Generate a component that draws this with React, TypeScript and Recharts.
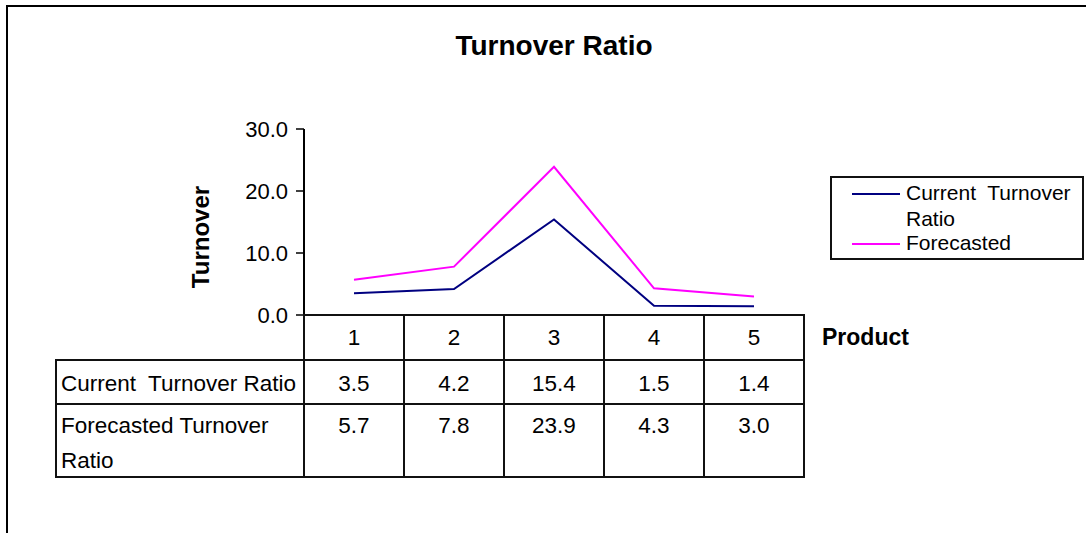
import React from "react";
import { LineChart, Line, XAxis, YAxis } from "recharts";

// values
const products = ["1", "2", "3", "4", "5"];
const currentRatio = [3.5, 4.2, 15.4, 1.5, 1.4];
const forecastRatio = [5.7, 7.8, 23.9, 4.3, 3.0];
const yTicks = [0, 10, 20, 30];
const seriesNames = ["Current  Turnover Ratio", "Forecasted Turnover Ratio"];
const legendNames = ["Current  Turnover Ratio", "Forecasted"];
const seriesColors = ["#000080", "#FF00FF"];

const data = products.map((p, i) => ({
  product: p,
  current: currentRatio[i],
  forecast: forecastRatio[i],
}));

const W = 1086;
const H = 533;
const PLOT_LEFT = 304;
const PLOT_TOP = 129;
const PLOT_W = 500;
const PLOT_H = 186;
const BAND = PLOT_W / products.length;
const TABLE_LEFT = 56;
const ROW_H = [45, 44, 73];
const FONT = '"Liberation Sans", Arial, sans-serif';
const LINE = "2px solid #111";
const TEXT_SIZE = 22.5;

function Cell({ x, y, w, h, children, style }: any) {
  return (
    <div
      style={{
        position: "absolute",
        left: x - 1,
        top: y - 1,
        width: w + 2,
        height: h + 2,
        border: LINE,
        boxSizing: "border-box",
        fontSize: TEXT_SIZE,
        color: "#000",
        ...style,
      }}
    >
      {children}
    </div>
  );
}

function DataTable() {
  const top0 = PLOT_TOP + PLOT_H;
  const top1 = top0 + ROW_H[0];
  const top2 = top1 + ROW_H[1];
  const rows = [currentRatio, forecastRatio];
  const rowTops = [top1, top2];
  const centered = { display: "flex", alignItems: "center", justifyContent: "center" };
  return (
    <>
      {products.map((p, i) => (
        <Cell key={"c" + i} x={PLOT_LEFT + i * BAND} y={top0} w={BAND} h={ROW_H[0]} style={centered}>
          {p}
        </Cell>
      ))}
      {rows.map((vals, r) => (
        <React.Fragment key={"r" + r}>
          <Cell
            x={TABLE_LEFT}
            y={rowTops[r]}
            w={PLOT_LEFT - TABLE_LEFT}
            h={ROW_H[r + 1]}
            style={
              r === 0
                ? { display: "flex", alignItems: "center", paddingLeft: 4, paddingTop: 3, whiteSpace: "pre" }
                : { paddingLeft: 4, paddingTop: 3, lineHeight: "35px", whiteSpace: "pre-wrap" }
            }
          >
            {seriesNames[r]}
          </Cell>
          {vals.map((v, i) => (
            <Cell
              key={i}
              x={PLOT_LEFT + i * BAND}
              y={rowTops[r]}
              w={BAND}
              h={ROW_H[r + 1]}
              style={
                r === 0
                  ? { ...centered, paddingTop: 3 }
                  : { textAlign: "center", paddingTop: 3, lineHeight: "35px" }
              }
            >
              {v.toFixed(1)}
            </Cell>
          ))}
        </React.Fragment>
      ))}
    </>
  );
}

function LegendBox() {
  const itemTops = [0, 50];
  return (
    <div
      style={{
        position: "absolute",
        left: 830,
        top: 176,
        width: 254,
        height: 84,
        border: LINE,
        boxSizing: "border-box",
        fontSize: 21,
      }}
    >
      {legendNames.map((name, i) => (
        <React.Fragment key={name}>
          <div
            style={{
              position: "absolute",
              left: 20,
              top: 15 + itemTops[i],
              width: 48,
              height: 2,
              background: seriesColors[i],
            }}
          />
          <div
            style={{
              position: "absolute",
              left: 74,
              top: 2 + itemTops[i],
              width: 172,
              lineHeight: "26px",
              whiteSpace: "pre-wrap",
            }}
          >
            {name}
          </div>
        </React.Fragment>
      ))}
    </div>
  );
}

export default function App() {
  const marginLeft = 150;
  return (
    <div
      style={{
        position: "absolute",
        left: 0,
        top: 0,
        width: W,
        height: H,
        background: "#fff",
        overflow: "hidden",
        fontFamily: FONT,
      }}
    >
      <div
        style={{
          position: "absolute",
          left: 6,
          top: 5,
          width: W + 20,
          height: H + 20,
          border: "2px solid #000",
        }}
      />
      <div
        style={{
          position: "absolute",
          left: PLOT_LEFT + PLOT_W / 2 - 200,
          top: 32,
          width: 400,
          textAlign: "center",
          fontSize: 28,
          fontWeight: "bold",
          lineHeight: "28px",
        }}
      >
        Turnover Ratio
      </div>
      <div style={{ position: "absolute", left: 0, top: 0 }}>
        <LineChart
          width={W}
          height={H}
          data={data}
          margin={{
            top: PLOT_TOP,
            right: W - PLOT_LEFT - PLOT_W,
            bottom: H - PLOT_TOP - PLOT_H,
            left: marginLeft,
          }}
        >
          <XAxis dataKey="product" hide padding={{ left: BAND / 2, right: BAND / 2 }} />
          <YAxis
            width={PLOT_LEFT - marginLeft}
            domain={[0, 30]}
            ticks={yTicks}
            tickFormatter={(v: number) => v.toFixed(1)}
            axisLine={{ stroke: "#000", strokeWidth: 2 }}
            tickLine={{ stroke: "#000", strokeWidth: 1.5 }}
            tickSize={8}
            tickMargin={8}
            tick={{ fill: "#000", fontSize: 22, fontFamily: FONT }}
            label={{
              content: ({ viewBox }: any) => {
                const cx = viewBox.x + 50;
                const cy = viewBox.y + viewBox.height / 2 + 15;
                return (
                  <text
                    x={cx}
                    y={cy}
                    transform={`rotate(-90 ${cx} ${cy})`}
                    textAnchor="middle"
                    dominantBaseline="central"
                    fontSize={24}
                    fontWeight="bold"
                    fontFamily={FONT}
                    fill="#000"
                  >
                    Turnover
                  </text>
                );
              },
            }}
          />
          <Line
            dataKey="current"
            name={seriesNames[0]}
            stroke={seriesColors[0]}
            strokeWidth={2}
            dot={false}
            isAnimationActive={false}
          />
          <Line
            dataKey="forecast"
            name={seriesNames[1]}
            stroke={seriesColors[1]}
            strokeWidth={2}
            dot={false}
            isAnimationActive={false}
          />
        </LineChart>
      </div>
      <DataTable />
      <div
        style={{
          position: "absolute",
          left: 822,
          top: PLOT_TOP + PLOT_H,
          height: ROW_H[0],
          display: "flex",
          alignItems: "center",
          fontSize: 23,
          fontWeight: "bold",
        }}
      >
        Product
      </div>
      <LegendBox />
    </div>
  );
}
